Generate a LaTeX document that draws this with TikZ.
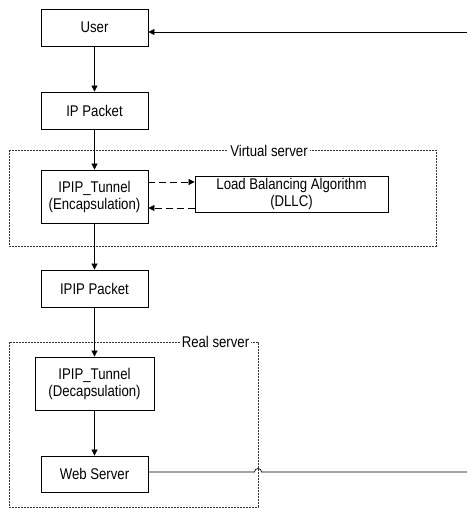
\documentclass[tikz,border=0pt]{standalone}
\usepackage{fontspec}
\setmainfont{Liberation Sans}[FakeStretch=0.85]
\usetikzlibrary{arrows.meta,calc}
\begin{document}
\begin{tikzpicture}[x=1pt,y=-1pt,
  font=\fontsize{15.5}{17}\selectfont,
  every node/.style={inner sep=0pt},
  blk/.style={draw,line width=0.8pt,rectangle,minimum width=107pt,minimum height=37pt,align=center},
  flow/.style={draw,line width=0.7pt,-{Triangle[length=6pt,width=6pt]}},
  dashflow/.style={flow,dash pattern=on 7pt off 4pt},
  group/.style={draw,line width=0.6pt,dash pattern=on 2pt off 1pt,black!80},
  grouplabel/.style={fill=white,inner xsep=2pt}]
  \useasboundingbox (0,0) rectangle (467,508);

  % group frames
  \coordinate (vs1) at (9,150);
  \coordinate (vs2) at (436,246);
  \coordinate (rs1) at (9,342);
  \coordinate (rs2) at (258,507);
  \draw[group] (vs1) rectangle (vs2);
  \draw[group] (rs1) rectangle (rs2);
  \node[grouplabel] (vslabel) at (269,151) {Virtual server};
  \node[grouplabel] (rslabel) at (215.5,342) {Real server};

  % blocks
  \node[blk] (user) at (94.5,27.5) {User};
  \node[blk] (ip) at (94.5,110.5) {IP Packet};
  \node[blk,minimum height=53pt] (enc) at (94.5,196.5) {IPIP\_Tunnel\\(Encapsulation)};
  \node[blk,minimum width=193pt,minimum height=36pt] (lba) at (291.5,194) {Load Balancing Algorithm\\(DLLC)};
  \node[blk] (ipip) at (94.5,288.5) {IPIP Packet};
  \node[blk,minimum width=119pt,minimum height=53pt] (dec) at (94.5,383.5) {IPIP\_Tunnel\\(Decapsulation)};
  \node[blk,minimum height=36pt] (web) at (94.5,474) {Web Server};

  % main flow
  \draw[flow] (user) -- (ip);
  \draw[flow] (ip) -- (enc);
  \draw[flow] (enc) -- (ipip);
  \draw[flow] (ipip) -- (dec);
  \draw[flow] (dec) -- (web);

  % request to and reply from the balancer
  \coordinate (req) at (0,182);
  \coordinate (rep) at (0,208);
  \draw[dashflow] (enc.east |- req) -- (lba.west |- req);
  \draw[dashflow] (lba.west |- rep) -- (enc.east |- rep);

  % response path back to the user, hopping over the frame edge
  \coordinate (wout) at (467,472);
  \coordinate (uin) at (467,32);
  \draw[line width=0.7pt] (web.east |- wout) -- (254.5,472)
     arc[start angle=180,end angle=360,radius=3.5] -- (wout);
  \draw[flow] (uin) -- (user.east |- uin);
\end{tikzpicture}
\end{document}
